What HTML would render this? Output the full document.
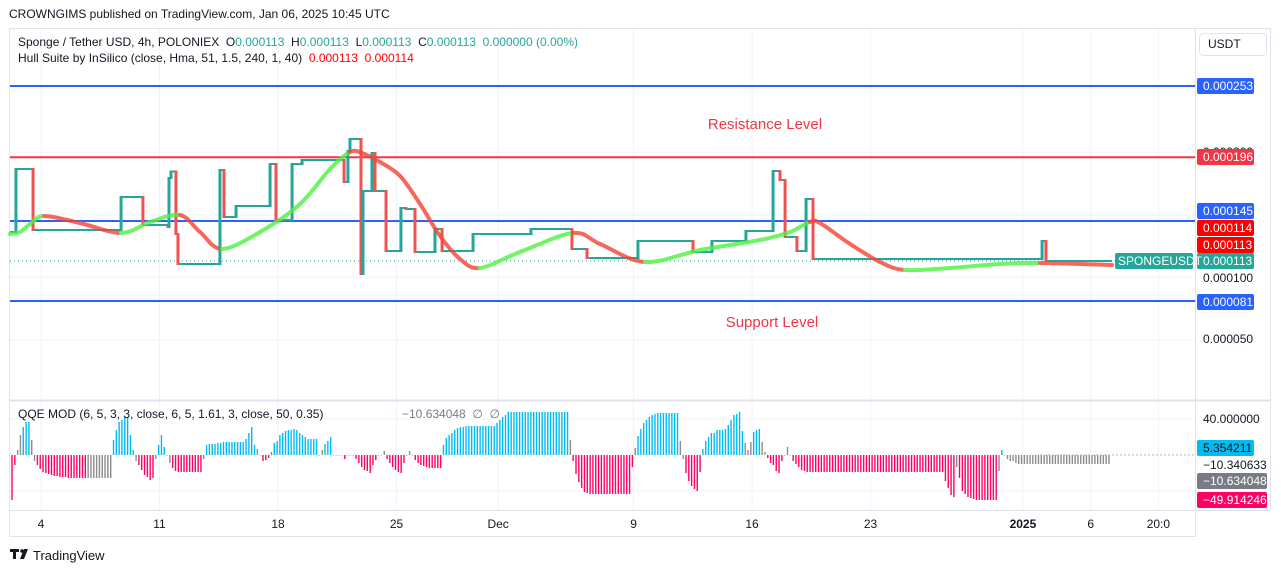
<!DOCTYPE html>
<html><head><meta charset="utf-8"><style>
body{margin:0;width:1281px;height:573px;background:#fff;overflow:hidden;font-family:"Liberation Sans",sans-serif}
svg text{font-family:"Liberation Sans",sans-serif}
</style></head><body>
<svg id="c" width="1281" height="573" xmlns="http://www.w3.org/2000/svg"></svg>
<script>
// ---- price step data (days since Nov 1, price in 1e-6 USDT) ----
const stepDays=[1.0,1.52,2.53,7.73,9.02,10.50,10.56,10.68,10.97,11.09,13.57,13.81,14.52,16.53,16.88,17.83,18.42,20.90,21.13,21.25,21.90,22.02,22.55,22.73,23.38,24.26,24.56,25.09,26.27,26.69,28.52,31.94,34.36,35.25,38.26,41.51,42.63,44.64,46.24,46.65,46.95,47.65,48.19,48.60,62.13,62.36];
const stepPrices=[136.2,186.6,137.8,164.2,141.8,140.2,179.4,184.6,134.6,110.6,185.8,148.2,157,190.6,145.8,190.6,193.8,176.2,201,210.6,102.6,169,199.4,169,121,155.4,154.6,120.2,138.6,121,134.6,138.6,122.6,115.4,129,120.2,129,137,185,177.8,132.2,121,162.6,114.6,129,113];
const lastDay=66.26;
// ---- Hull Suite ----
const hullDays=[1.17,1.76,2.35,3.18,5.30,7.73,9.44,11.21,12.39,13.69,15.94,18.30,20.07,21.25,21.96,23.02,24.21,25.39,26.57,27.75,28.93,31.29,34.42,36.02,38.68,41.93,45.47,47.24,48.42,49.01,50.79,52.56,54.03,56.69,59.64,62.01,66.26];
const hullPrices=[134.6,136.2,142.6,149,143.4,135.4,144.2,149.8,136.2,122.6,136.2,158.6,186.6,200.2,199.4,192.2,181,158.6,133,114.6,107.4,120.2,135.4,126.6,112.2,121.8,129.8,136.2,144.2,143.4,126.6,112.2,105.8,107.4,110.6,111.4,109.8];
// ---- levels ----
const levelValues=[253,196,145,81];
const levelColors=['#2962ff','#f23645','#2962ff','#2962ff'];
// ---- time axis ----
const tickDays=[3,10,17,24,30,38,45,52,61,65,69];
const tickLabels=['4','11','18','25','Dec','9','16','23','2025','6','20:0'];
// ---- QQE histogram (one bar per 4h) ----
const qqeValues=[-45,-10,5,20,28,33,33,15,-6,
-10,-14,-17,-18,
-19,-20,-21,-21,-22,-22,-22,-23,-23,-23,-23,-23,-23,-23,
-23,-23,-23,-23,-23,-23,-23,-23,-23,
15,25,33,35,38,38,20,5,
-6,
-10,-15,-20,-22,-25,-23,
-4,
10,20,8,
0,-8,
-13,-16,-17,-17,-17,-17,-17,-17,-17,-17,-17,
-4,
10,11,11,11,12,12,13,13,13,13,13,13,13,13,16,22,28,10,
6,0,
-6,-5,-3,
3,12,14,20,22,24,25,25,26,25,22,20,18,16,16,16,16,
0,5,
11,14,18,
0,0,0,0,
-4,
0,0,0,
-4,-8,-12,-15,-16,-18,-10,-5,
0,0,4,
-4,-8,-12,-15,-17,-18,-8,
0,4,0,
-5,-8,-10,-11,-12,-13,-13,-13,-13,-13,
10,17,20,22,25,27,28,28,29,29,29,29,29,29,29,29,29,29,29,32,35,38,40,43,43,43,43,43,43,43,43,43,43,43,43,43,43,43,43,43,43,43,43,43,43,
15,
-6,-19,-27,-33,-37,-38,-39,-39,-39,-39,-39,-39,-39,-39,-39,-39,-39,-39,-39,-39,-39,-12,
7,
19,26,32,35,38,40,41,42,42,42,42,42,42,42,42,
14,-4,
-18,-26,-31,-34,-36,-17,
6,14,18,22,22,25,25,25,26,30,35,40,41,43,24,
12,5,13,
23,25,26,
13,3,
-3,-8,-10,-16,-18,-6,
0,8,0,
-6,-9,-12,-15,-16,-17,-17,-17,-17,-17,-17,-17,-17,-17,-17,-17,-17,-17,-17,-17,-17,-17,-17,-17,-17,-17,-17,-17,-17,-17,-17,-17,-17,-17,-17,-17,-17,-17,-17,-17,-17,-17,-17,-17,-17,-17,-17,-17,-17,-17,-17,-17,-17,-17,-26,-33,-40,-42,
-12,
-23,-36,-39,-42,-43,-44,-45,-45,-45,-45,-45,-45,-45,-45,
-16,
5,
0,-4,-6,-6,-8,-9,-9,-9,-9,-9,-9,-9,-9,-9,-9,-9,-9,-9,-9,-9,-9,-9,-9,-9,-9,-9,-9,-9,-9,-9,-9,-9,-9,-9,-9,-9,-9,-9];
const qqeColors=('ppggbbbgg'+'pppp'+'pppppppppppppp'+'ggggggggg'+'bbbbbbbb'+'g'+'pppppp'+'g'+'bbb'+'gg'+'ppppppppppp'+'g'+'bbbbbbbbbbbbbbbbbb'+'gg'+'ppp'+'bbbbbbbbbbbbbbbbb'+'gg'+'bbb'+'gggg'+'p'+'ggg'+'pppppppp'+'ggg'+'ppppppp'+'ggg'+'pppppppppp'+'b'.repeat(45)+'g'+'p'.repeat(22)+'g'+'b'.repeat(15)+'gg'+'pppppp'+'b'.repeat(15)+'ggg'+'bbb'+'gg'+'pppppp'+'ggg'+'p'.repeat(58)+'g'+'p'.repeat(14)+'g'+'b'+'g'.repeat(38)).split('');

const NS='http://www.w3.org/2000/svg';
const svg=document.getElementById('c');
function mk(tag,attrs,parent){const e=document.createElementNS(NS,tag);for(const k in attrs)e.setAttribute(k,attrs[k]);(parent||svg).appendChild(e);return e;}
function tx(str,attrs,parent){const e=mk('text',attrs,parent);e.textContent=str;return e;}
const xDay=d=>41+(d-3)*16.93;
const yP=p=>86+(253-p)*1.25;
const Z=455, yQ=v=>Z-v*1.0;
const PL=10, PR=1195;

// frame
mk('rect',{x:9.5,y:28.5,width:1261,height:508,fill:'#fff',stroke:'#e0e3eb'});
let e;
e=tx('CROWNGIMS published on TradingView.com, Jan 06, 2025 10:45 UTC',{x:9,y:18,'font-size':12,fill:'#131722'});


// grid
const grid=mk('g',{});

[200,150,100,50].forEach(p=>mk('line',{x1:PL,x2:PR,y1:yP(p),y2:yP(p),stroke:'#f0f3fa'},grid));
mk('line',{x1:PL,x2:PR,y1:yQ(36),y2:yQ(36),stroke:'#f0f3fa'},grid);
mk('line',{x1:PL,x2:PR,y1:yQ(-36),y2:yQ(-36),stroke:'#f0f3fa'},grid);
tickDays.forEach(d=>{const x=xDay(d);if(x<PR)mk('line',{x1:x,x2:x,y1:29,y2:510,stroke:'#f0f3fa'},grid);});
// separators
mk('line',{x1:PL,x2:1271,y1:400.5,y2:400.5,stroke:'#e0e3eb',"stroke-width":2});
mk('line',{x1:PL,x2:1271,y1:510.5,y2:510.5,stroke:'#e0e3eb'});
mk('line',{x1:PR+0.5,x2:PR+0.5,y1:29,y2:537,stroke:'#e0e3eb'});

// levels
levelValues.forEach((v,i)=>{const l=mk('line',{x1:PL,x2:PR,y1:yP(v),y2:yP(v),stroke:levelColors[i],'stroke-width':2});
});
e=tx('Resistance Level',{x:765,y:129,'font-size':15,fill:'#f23645','text-anchor':'middle'});

e=tx('Support Level',{x:772,y:327,'font-size':15,fill:'#f23645','text-anchor':'middle'});


// current price dotted
const lastP=stepPrices[stepPrices.length-1];
mk('line',{x1:PL,x2:xDay(lastDay),y1:yP(lastP),y2:yP(lastP),stroke:'#26a69a','stroke-dasharray':'1 3'});

// price steps
const cg=mk('g',{});

for(let i=0;i<stepDays.length;i++){
  const x0=Math.max(PL,xDay(stepDays[i]));const x1=i+1<stepDays.length?xDay(stepDays[i+1]):xDay(lastDay);
  const p=stepPrices[i];
  const h=mk('line',{x1:x0,x2:x1,y1:yP(p),y2:yP(p),stroke:'#26a69a','stroke-width':2},cg);
  
  if(i>0){const pp=stepPrices[i-1];const up=p>pp;
    const v=mk('rect',{x:x0-1.5,y:Math.min(yP(p),yP(pp))-1,width:3,height:Math.abs(yP(p)-yP(pp))+2,fill:up?'#26a69a':'#ef5350'},cg);
    }
}

// hull
const hg=mk('g',{opacity:0.8});

const pts=hullDays.map((d,i)=>[xDay(d),yP(hullPrices[i])]);
for(let i=0;i<pts.length-1;i++){
  const p0=pts[Math.max(0,i-1)],p1=pts[i],p2=pts[i+1],p3=pts[Math.min(pts.length-1,i+2)];
  const c1=[p1[0]+(p2[0]-p0[0])/6,p1[1]+(p2[1]-p0[1])/6],c2=[p2[0]-(p3[0]-p1[0])/6,p2[1]-(p3[1]-p1[1])/6];
  const rising=hullPrices[i+1]>=hullPrices[i];
  const s=mk('path',{d:`M${p1[0]},${p1[1]} C${c1[0]},${c1[1]} ${c2[0]},${c2[1]} ${p2[0]},${p2[1]}`,fill:'none',stroke:rising?'#4cf23f':'#f44336','stroke-width':4,'stroke-linecap':'round'},hg);
  
}

// QQE
const qg=mk('g',{});

const qcol={b:'#00bcf2',p:'#ff0066',g:'#8c8c8c'};
qqeValues.forEach((v,i)=>{const x=12+i*2.82;
  const b=mk('rect',{x:x-0.7,y:Math.min(Z,yQ(v)),width:1.4,height:Math.max(0.5,Math.abs(v)),fill:qcol[qqeColors[i]]},qg);
  });
mk('line',{x1:1040,x2:PR,y1:Z,y2:Z,stroke:'#b2b5be','stroke-dasharray':'2 2'});

// time axis
tickDays.forEach((d,i)=>{const t=tx(tickLabels[i],{x:xDay(d),y:528,'font-size':12,fill:'#131722','text-anchor':'middle','font-weight':tickLabels[i]==='2025'?'bold':'normal'});
  });
mk('rect',{x:1196,y:511,width:75,height:26,fill:'#fff'});

// price axis labels
function box(label,y,bg,fg,name){const g=mk('g',{});
  if(bg)mk('rect',{x:1197,y:y-8,width:57,height:16,rx:2,fill:bg},g);
  tx(label,{x:1203,y:y+4,'font-size':12,fill:fg},g);}
box('0.000200',152,null,'#131722','y-tick');
box('0.000253',86,'#2962ff','#fff','level-label');
box('0.000196',157,'#f23645','#fff','level-label');
box('0.000145',211,'#2962ff','#fff','level-label');
box('0.000114',228,'#ff0000','#fff','hull-label');
box('0.000113',245,'#ff0000','#fff','hull-label');
box('0.000113',261,'#26a69a','#fff','last-price-label');
box('0.000100',278,null,'#131722','y-tick');
box('0.000081',302,'#2962ff','#fff','level-label');
box('0.000050',339,null,'#131722','y-tick');
box('40.000000',419,null,'#131722','qqe-tick');
box('5.354211',448,'#00bcf2','#131722','qqe-label');
box('\u221210.340633',465,null,'#131722','qqe-label');
e=mk('rect',{x:1197,y:473,width:70,height:16,rx:2,fill:'#787b86'});
tx('\u221210.634048',{x:1203,y:485,'font-size':12,fill:'#fff'});
mk('rect',{x:1197,y:492,width:70,height:16,rx:2,fill:'#ff0066'});
tx('\u221249.914246',{x:1203,y:504,'font-size':12,fill:'#fff'});
// symbol tag
e=mk('rect',{x:1115,y:253,width:78,height:16,rx:2,fill:'#26a69a'});

tx('SPONGEUSDT',{x:1118,y:265,'font-size':12,fill:'#fff'});
// USDT button
e=mk('rect',{x:1199.5,y:33.5,width:67,height:22,rx:4,fill:'#fff',stroke:'#e0e3eb'});

tx('USDT',{x:1208,y:48,'font-size':12,fill:'#131722'});

// legend
const lg=mk('text',{x:18,y:46,'font-size':12,fill:'#131722'});

lg.innerHTML='Sponge / Tether USD, 4h, POLONIEX \u00a0O<tspan fill="#26a69a">0.000113</tspan> \u00a0H<tspan fill="#26a69a">0.000113</tspan> \u00a0L<tspan fill="#26a69a">0.000113</tspan> \u00a0C<tspan fill="#26a69a">0.000113 \u00a00.000000 (0.00%)</tspan>';
const lg2=mk('text',{x:18,y:62,'font-size':12,fill:'#131722'});

lg2.innerHTML='Hull Suite by InSilico (close, Hma, 51, 1.5, 240, 1, 40) \u00a0<tspan fill="#ff0000">0.000113 \u00a00.000114</tspan>';
const lg3=mk('text',{x:18,y:418,'font-size':12,fill:'#131722'});

lg3.innerHTML='QQE MOD (6, 5, 3, 3, close, 6, 5, 1.61, 3, close, 50, 0.35) <tspan x="402" fill="#787b86">\u221210.634048 \u00a0\u2205 \u00a0\u2205</tspan>';

// footer logo
const fg=mk('g',{});
mk('path',{d:'M10 549h9v3h-3v7h-3v-7h-3z',fill:'#131722'},fg);
mk('circle',{cx:22,cy:551,r:1.8,fill:'#131722'},fg);
mk('path',{d:'M24 549h4l-4 10h-4z',fill:'#131722'},fg);
tx('TradingView',{x:33,y:560,'font-size':13,fill:'#131722'},fg);
</script>
</body></html>
